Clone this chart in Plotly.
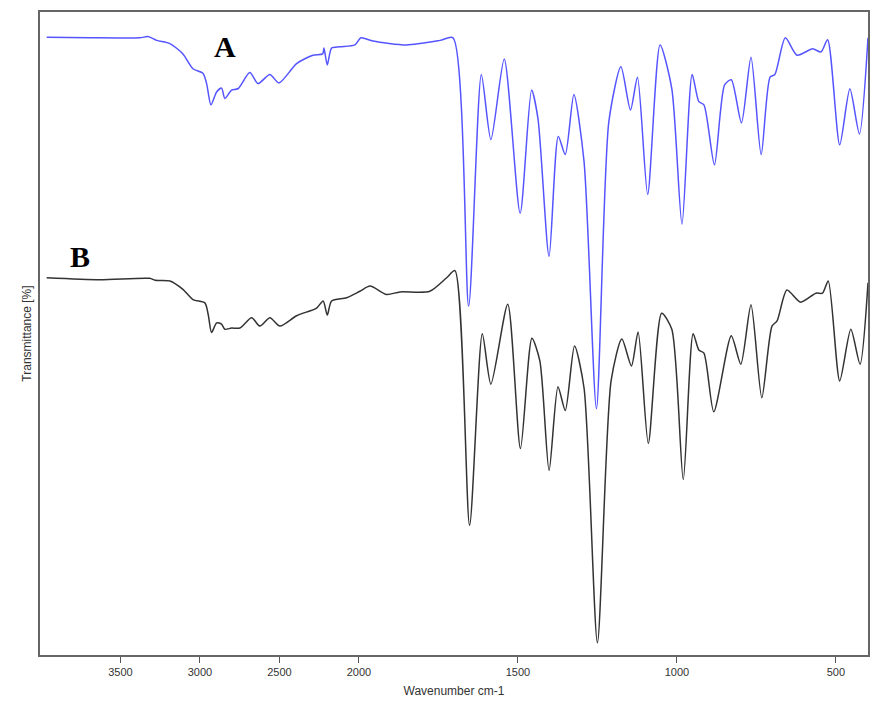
import plotly.graph_objects as go

# Wavenumber (cm-1) and transmittance (arbitrary %)
wn_A = [3964,3692,3378,3327,3272,3189,3107,3044,2981,2958,2931,2895,2864,2843,2801,2761,2686,2635,2560,2503,
        2392,2289,2228,2220,2199,2172,2120,2025,1994,1956,1850,1745,1704,1655,1615,1585,1543,1493,1457,1437,
        1402,1373,1351,1324,1292,1253,1214,1176,1146,1124,1092,1053,1016,984,952,931,915,882,850,829,797,767,
        735,707,692,659,622,573,547,526,488,456,426,399]
T_A = [95.8,95.7,95.7,95.9,95.3,94.8,93.2,90.9,90.2,88.6,85.3,87.3,87.9,86.3,87.6,87.8,90.3,88.6,90.0,88.7,
       91.7,93.0,93.2,94.1,91.5,94.1,94.3,94.6,95.7,95.2,94.6,95.3,95.7,54.1,90.0,79.9,92.4,68.5,87.6,83.2,
       61.8,80.4,77.6,86.9,76.5,38.2,82.7,91.2,84.5,89.6,71.4,94.6,87.8,66.8,90.0,85.8,85.3,76.0,88.4,89.2,82.5,92.7,
       77.6,89.6,90.0,95.7,93.0,94.0,93.5,95.4,79.1,87.8,80.8,95.7]

wn_B = [3964,3629,3315,3283,3189,3107,3044,2969,2948,2927,2895,2864,2843,2801,2749,2675,2623,2560,2497,2392,
        2266,2225,2199,2172,2077,1997,1965,1913,1871,1777,1724,1698,1652,1612,1585,1532,1492,1456,1431,1402,
        1374,1351,1322,1292,1250,1207,1173,1143,1122,1090,1048,1016,980,949,931,915,884,829,799,767,733,701,
        685,654,611,563,542,524,488,453,424,399]
T_B = [58.5,58.2,58.4,58.1,58.0,56.7,55.1,54.6,52.8,50.0,51.5,51.3,50.5,50.7,50.7,52.3,51.0,52.3,51.0,52.6,
       53.8,54.9,52.7,54.9,55.4,56.4,57.2,55.9,56.3,56.4,58.5,59.6,20.1,49.8,42.0,54.4,32.0,49.1,45.6,28.6,
       41.6,37.9,47.9,41.4,1.9,42.5,49.0,44.8,50.1,32.8,53.0,50.5,27.2,49.8,47.3,46.8,37.7,49.5,45.1,54.3,39.9,51.0,
       51.8,56.6,54.7,56.1,56.1,58.0,42.5,50.5,45.1,57.7]

tick_vals = [3500, 3000, 2500, 2000, 1500, 1000, 500]
tick_text = [str(v) for v in tick_vals]

def u(w):  # instrument axis: scale halves above 2000 cm-1
    return w if w <= 2000 else 2000 + (w - 2000) / 2

fig = go.Figure()
fig.add_trace(go.Scatter(x=[u(w) for w in wn_A], y=T_A, mode="lines",
                         line=dict(color="#5555ff", width=1.5, shape="spline", smoothing=0.7)))
fig.add_trace(go.Scatter(x=[u(w) for w in wn_B], y=T_B, mode="lines",
                         line=dict(color="#333333", width=1.5, shape="spline", smoothing=0.7)))

fig.add_annotation(x=u(2843), y=94.3, text="<b>A</b>", showarrow=False,
                   font=dict(family="Liberation Serif", size=30, color="black"))
fig.add_annotation(x=u(3755), y=61.8, text="<b>B</b>", showarrow=False,
                   font=dict(family="Liberation Serif", size=30, color="black"))

fig.update_layout(
    width=870, height=706, showlegend=False,
    margin=dict(l=32, r=10, t=2, b=59),
    plot_bgcolor="white", paper_bgcolor="white",
    font=dict(family="Liberation Sans", size=11, color="#333333"),
)
fig.update_xaxes(range=[u(4006), u(399)], tickvals=[u(v) for v in tick_vals], ticktext=tick_text,
                 ticks="outside", ticklen=6, tickcolor="#555555", showgrid=False, zeroline=False,
                 showline=True, linecolor="#666666", linewidth=1.5, mirror=True,
                 title=dict(text="Wavenumber cm-1", standoff=10, font=dict(size=12)))
fig.update_yaxes(range=[0, 99.7], showticklabels=False, ticks="", showgrid=False, zeroline=False,
                 showline=True, linecolor="#666666", linewidth=1.5, mirror=True,
                 title=dict(text="Transmittance [%]", standoff=4, font=dict(size=12)))

fig.write_html("out.html")
